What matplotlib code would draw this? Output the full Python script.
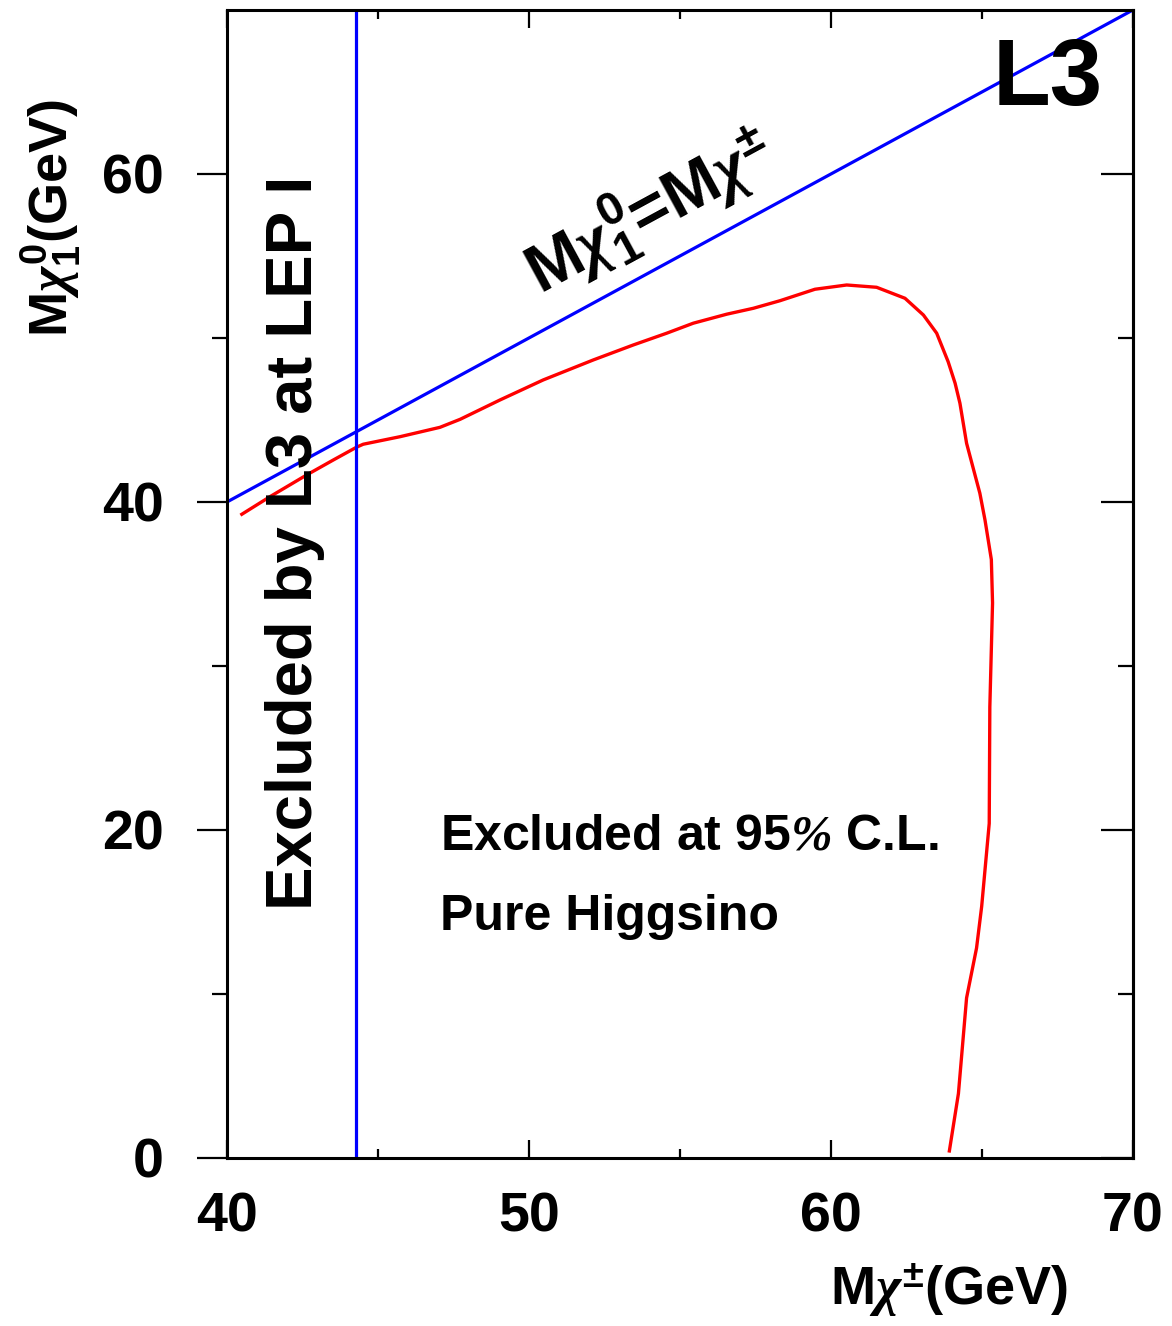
import matplotlib.pyplot as plt
import numpy as np

plt.rcParams['font.family'] = 'Liberation Sans'
plt.rcParams['font.weight'] = 'bold'
plt.rcParams['mathtext.fontset'] = 'custom'
plt.rcParams['mathtext.rm'] = 'Liberation Sans:bold'
plt.rcParams['mathtext.bf'] = 'Liberation Sans:bold'
plt.rcParams['mathtext.it'] = 'Liberation Serif:italic'
plt.rcParams['mathtext.sf'] = 'Liberation Serif:italic'

# 95% C.L. exclusion contour (pure higgsino)
limit_x = [40.49, 41.42, 42.64, 43.52, 44.29, 44.51, 45.73, 47.05, 47.72, 49.04,
           50.47, 52.13, 53.45, 54.56, 55.44, 56.55, 57.43, 58.31, 59.47, 60.52,
           61.51, 62.45, 63.06, 63.50, 63.88, 64.11, 64.27, 64.49, 64.93, 65.10,
           65.31, 65.35, 65.26, 65.24, 64.99, 64.82, 64.49, 64.22, 63.92]
limit_y = [39.25, 40.32, 41.65, 42.56, 43.34, 43.52, 43.98, 44.55, 45.04, 46.22,
           47.44, 48.66, 49.57, 50.29, 50.90, 51.45, 51.81, 52.27, 52.97, 53.23,
           53.09, 52.42, 51.40, 50.29, 48.55, 47.24, 46.02, 43.58, 40.53, 38.90,
           36.49, 33.84, 27.50, 20.40, 15.34, 12.80, 9.76, 3.93, 0.43]

# kinematic limit M(chi0) = M(chi+-)
diag_x = [40, 70]
diag_y = [40, 70]

# LEP I chargino limit
lep1_limit = 44.27

x_major = [40, 50, 60, 70]
x_minor = [45, 55, 65]
y_major = [0, 20, 40, 60]
y_minor = [10, 30, 50]

fig = plt.figure(figsize=(11.72, 13.26), dpi=100)
ax = fig.add_axes([0.1937, 0.1267, 0.773, 0.8658])

ax.plot(limit_x, limit_y, color='red', lw=2.4)
ax.plot(diag_x, diag_y, color='blue', lw=2.3)
ax.axvline(lep1_limit, color='blue', lw=2.3)

ax.set_xlim(40, 70)
ax.set_ylim(0, 70)

for s in ax.spines.values():
    s.set_linewidth(2.2)

ax.set_xticks(x_major)
ax.set_xticks(x_minor, minor=True)
ax.set_yticks(y_major)
ax.set_yticks(y_minor, minor=True)

ax.tick_params(axis='x', which='both', direction='in', top=True, width=1.6)
ax.tick_params(axis='x', which='major', length=13, pad=24, labelsize=40)
ax.tick_params(axis='x', which='minor', length=6.5)
ax.tick_params(axis='y', which='both', direction='out', right=False, width=1.6)
ax.tick_params(axis='y', which='major', length=21.6, pad=24, labelsize=40)
ax.tick_params(axis='y', which='minor', length=10.8)

# inward ticks on the right side
ax2 = ax.secondary_yaxis('right')
ax2.set_yticks(y_major)
ax2.set_yticks(y_minor, minor=True)
ax2.tick_params(axis='y', which='both', direction='in', labelright=False, width=1.6)
ax2.tick_params(axis='y', which='major', length=23)
ax2.tick_params(axis='y', which='minor', length=11)
ax2.spines['right'].set_linewidth(2.2)

for lab in ax.get_xticklabels() + ax.get_yticklabels():
    lab.set_fontweight('bold')

ax.text(0.928, -0.128, r'M$\chi^{\pm}$(GeV)', transform=ax.transAxes,
        ha='right', va='baseline', fontsize=39, fontweight='bold')
ax.text(-0.195, 0.819, r'M$\chi_1^0$(GeV)', transform=ax.transAxes,
        ha='center', va='center', rotation=90, fontsize=39, fontweight='bold')

ax.text(0.967, 0.917, 'L3', transform=ax.transAxes, ha='right',
        va='baseline', fontsize=68, fontweight='bold')

ax.text(42.81, 15.12, 'Excluded by L3 at LEP I', rotation=90,
        rotation_mode='anchor', ha='left', va='baseline',
        fontsize=47, fontweight='bold')

ax.text(50.4, 52.6, r'M$\chi_1^0$=M$\chi^{\pm}$', rotation=28.5,
        rotation_mode='anchor', ha='left', va='baseline',
        fontsize=48, fontweight='bold')

ax.text(47.05, 18.78, r'Excluded at 95$\mathsf{\%}$ C.L.', ha='left',
        va='baseline', fontsize=36, fontweight='bold')
ax.text(47.05, 13.9, 'Pure Higgsino', ha='left', va='baseline',
        fontsize=36, fontweight='bold')

fig.savefig('out.png', dpi=100)
